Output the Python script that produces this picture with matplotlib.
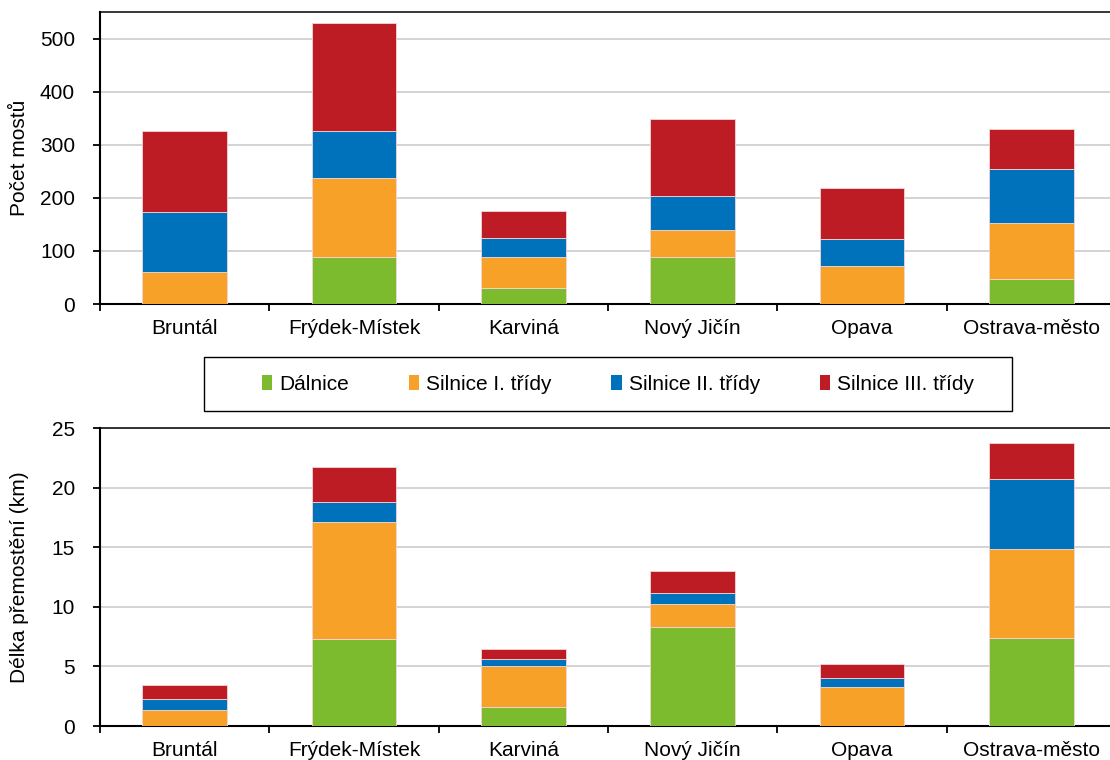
import numpy as np
import matplotlib.pyplot as plt
from matplotlib.patches import Rectangle, Patch

plt.rcParams['font.family'] = ['Liberation Sans', 'DejaVu Sans']

okresy = ["Bruntál", "Frýdek-Místek", "Karviná", "Nový Jičín", "Opava", "Ostrava-město"]
serie = ["Dálnice", "Silnice I. třídy", "Silnice II. třídy", "Silnice III. třídy"]
barvy = ["#7DBB2E", "#F8A128", "#0072BC", "#BE1C24"]

# pocet mostu
pocet_dalnice = [0, 88, 31, 88, 0, 48]
pocet_s1 = [60, 149, 57, 51, 72, 104]
pocet_s2 = [114, 88, 36, 65, 50, 102]
pocet_s3 = [151, 204, 51, 145, 96, 75]

# delka premosteni (km)
delka_dalnice = [0, 7.34, 1.63, 8.32, 0, 7.39]
delka_s1 = [1.32, 9.75, 3.41, 1.88, 3.31, 7.46]
delka_s2 = [0.95, 1.68, 0.56, 0.98, 0.72, 5.86]
delka_s3 = [1.21, 2.94, 0.87, 1.82, 1.13, 3.05]

FS = 15

fig = plt.figure(figsize=(11.1, 7.6), dpi=100)
ax1 = fig.add_axes([100 / 1110, 1 - 304 / 760, 1016 / 1110, 292 / 760])
ax2 = fig.add_axes([100 / 1110, 1 - 726 / 760, 1016 / 1110, 298 / 760])


def kresli(ax, data, ymax, ystep, ylabel):
    x = np.arange(len(okresy))
    dole = np.zeros(len(okresy))
    for hodnoty, barva in zip(data, barvy):
        ax.bar(x, hodnoty, width=0.5, bottom=dole, color=barva,
               edgecolor="#f2d6d6", linewidth=0.6, zorder=3)
        dole += np.array(hodnoty)
    ax.set_xlim(-0.5, len(okresy) - 0.5)
    ax.set_ylim(0, ymax)
    ax.set_yticks(np.arange(0, ymax + 0.01, ystep))
    ax.yaxis.grid(True, color="#d0d0d0", linewidth=1.3, zorder=0)
    ax.set_axisbelow(True)
    ax.set_xticks(x)
    ax.set_xticklabels(okresy, fontsize=FS)
    ax.set_xticks(np.arange(-0.5, len(okresy)), minor=True)
    ax.tick_params(axis="x", which="major", length=0, pad=11)
    ax.tick_params(axis="x", which="minor", length=5, width=1.3, direction="out")
    ax.tick_params(axis="y", length=5, width=1.3, labelsize=FS, pad=13)
    for s in ["left", "bottom", "top"]:
        ax.spines[s].set_linewidth(1.5 if s != "top" else 1.1)
    ax.spines["right"].set_visible(False)
    ax.set_ylabel(ylabel, fontsize=FS)
    ax.yaxis.set_label_coords(-0.07, 0.5)


kresli(ax1, [pocet_dalnice, pocet_s1, pocet_s2, pocet_s3], 550, 100, "Počet mostů")
kresli(ax2, [delka_dalnice, delka_s1, delka_s2, delka_s3], 25, 5, "Délka přemostění (km)")

# legenda
fig.patches.append(Rectangle((204 / 1110, 1 - 411 / 760), 808 / 1110, 54 / 760,
                             transform=fig.transFigure, fill=False,
                             edgecolor="black", linewidth=1.0))
handles = [Patch(facecolor=b, edgecolor="none") for b in barvy]
fig.legend(handles, serie, loc="center", bbox_to_anchor=(618 / 1110, 1 - 384 / 760),
           ncol=4, frameon=False, fontsize=FS, handlelength=0.5, handleheight=0.7,
           handletextpad=0.35, columnspacing=2.85)

fig.savefig("out.png", dpi=100)
